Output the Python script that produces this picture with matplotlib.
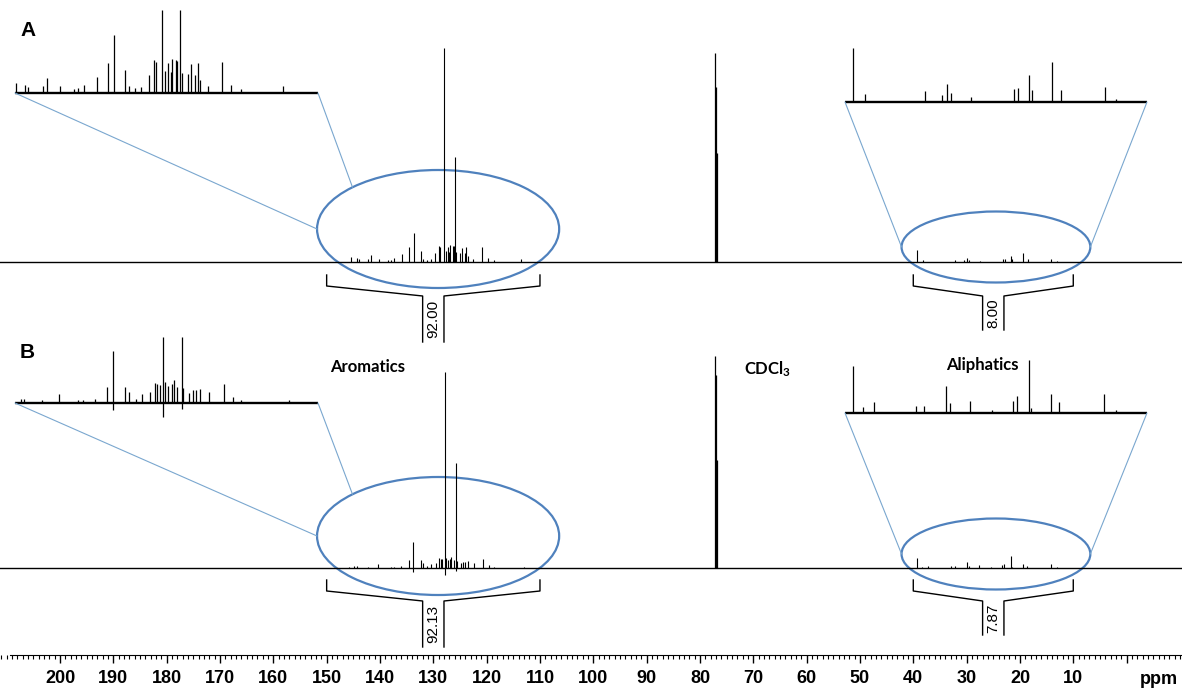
import numpy as np
import matplotlib.pyplot as plt
from matplotlib.patches import Ellipse, ConnectionPatch
from matplotlib.ticker import MultipleLocator

plt.rcParams['mathtext.default'] = 'regular'

# === peak lists ===
# aromatic region, heights in inset units (main trace = inset / 2)
a_aro_ppm = [145.4, 144.3, 143.9, 142.2, 141.7, 140.1, 138.5, 138.0, 137.3, 135.8,
             134.5, 133.7, 132.4, 132.0, 131.2, 130.5, 129.6, 129.0, 128.7, 128.0,
             127.7, 127.3, 127.0, 126.8, 126.4, 126.2, 125.9, 125.7, 125.0, 124.6,
             124.1, 123.8, 123.5, 122.6, 120.9, 119.8, 118.6, 113.6]
a_aro_h = [10, 8, 6, 7, 15, 7, 4, 5, 8, 16,
           30, 58, 23, 7, 5, 6, 18, 33, 31, 428,
           22, 30, 21, 34, 33, 32, 210, 20, 19, 29,
           18, 30, 13, 7, 31, 8, 4, 7]

b_aro_ppm = [145.9, 144.8, 144.4, 142.3, 140.3, 138.0, 137.4, 136.0, 134.6, 133.8,
             132.4, 132.0, 131.1, 130.4, 129.5, 128.9, 128.6, 128.3, 127.9, 127.7,
             127.3, 126.9, 126.6, 126.2, 125.7, 125.5, 124.8, 124.4, 124.0, 123.5,
             122.4, 120.7, 119.6, 118.6, 113.0]
b_aro_h = [3, 4, 4, 3, 9, 3, 3, 4, 16, 52,
           16, 11, 4, 9, 11, 20, 19, 18, 392, 21,
           17, 19, 23, 16, 210, 15, 10, 13, 13, 14,
           11, 19, 6, 3, 3]
b_aro_neg_ppm = [133.8, 127.9, 125.7]
b_aro_neg_h = [-7, -14, -6]

# aliphatic region, heights in inset units (main trace = inset / 4.5)
a_ali_ppm = [39.3, 38.1, 32.1, 30.4, 29.9, 29.5, 27.5, 23.2, 22.8, 21.7,
             21.4, 19.4, 18.5, 14.1, 13.0]
a_ali_h = [54, 8, 11, 7, 18, 9, 5, 13, 14, 27,
           12, 40, 12, 15, 3]

b_ali_ppm = [39.3, 38.3, 37.2, 33.0, 32.2, 30.0, 29.6, 27.6, 25.4, 23.3,
             22.9, 21.7, 21.5, 19.5, 18.7, 14.2, 13.0]
b_ali_h = [47, 6, 11, 7, 7, 27, 10, 12, 3, 12,
           17, 53, 5, 19, 11, 19, 3]

# solvent triplet (main units)
cdcl3_ppm = [77.16, 77.00, 76.84]
a_cdcl3_h = [209, 175, 109]
b_cdcl3_h = [212, 193, 108]

# integrals
int_ranges = [(150.0, 110.0), (40.0, 10.0)]
a_int = ['92.00', '8.00']
b_int = ['92.13', '7.87']

tick_vals = np.arange(200, -1, -10)
tick_labels = [str(v) if v > 0 else '' for v in tick_vals]

# === layout ===
W, H = 1182, 693
ARO_ZOOM, ALI_ZOOM = 2.0, 4.5
BLUE = '#4f81bd'
LINK = '#7aa7cf'


def px2ppm(x):
    return 200 - (x - 60) / 5.333


fig = plt.figure(figsize=(W / 100, H / 100), dpi=100)
ax = fig.add_axes([0, 38 / H, 1, 655 / H])
ax.set_xlim(px2ppm(0), px2ppm(W))
ax.set_ylim(0, 655)

base_a, base_b = 655 - 262, 655 - 568


def draw_main(base, aro_ppm, aro_h, ali_ppm, ali_h, solv_h):
    ax.axhline(base, color='k', lw=1.0)
    ax.vlines(aro_ppm, base, base + np.array(aro_h) / ARO_ZOOM, color='k', lw=0.8)
    ax.vlines(ali_ppm, base, base + np.array(ali_h) / ALI_ZOOM, color='k', lw=0.8)
    ax.vlines(cdcl3_ppm, base, base + np.array(solv_h), color='k', lw=0.9)


draw_main(base_a, a_aro_ppm, a_aro_h, a_ali_ppm, a_ali_h, a_cdcl3_h)
draw_main(base_b, b_aro_ppm, b_aro_h, b_ali_ppm, b_ali_h, b_cdcl3_h)
ax.vlines(b_aro_neg_ppm, base_b, base_b + np.array(b_aro_neg_h) / ARO_ZOOM, color='k', lw=0.8)


def make_inset(x0, x1, ytop, ybot, xlim, ylim, ppm, h, neg_ppm=None, neg_h=None):
    ins = fig.add_axes([x0 / W, 1 - ybot / H, (x1 - x0) / W, (ybot - ytop) / H])
    ins.set_xlim(*xlim)
    ins.set_ylim(*ylim)
    ins.axis('off')
    ins.plot(xlim, [0, 0], color='k', lw=1.7)
    ins.vlines(ppm, 0, np.minimum(h, ylim[1]), color='k', lw=0.9)
    if neg_ppm is not None:
        ins.vlines(neg_ppm, 0, neg_h, color='k', lw=0.9)
    return ins


ins_aa = make_inset(15, 318, 10, 96, (145.5, 109.5), (-3, 83), a_aro_ppm, a_aro_h)
ins_al = make_inset(845, 1147, 45, 105, (40.1, 9.9), (-3, 57), a_ali_ppm, a_ali_h)
ins_ba = make_inset(15, 318, 337, 418, (145.5, 109.5), (-15, 66), b_aro_ppm, b_aro_h,
                    b_aro_neg_ppm, b_aro_neg_h)
ins_bl = make_inset(845, 1147, 358, 416, (40.1, 9.9), (-3, 55), b_ali_ppm, b_ali_h)


def ellipse(cx, cy, w, h):
    ax.add_patch(Ellipse((cx, cy), w, h, fill=False, ec=BLUE, lw=1.6))

    def pt(t):
        t = np.deg2rad(t)
        return (cx - w / 2 * np.cos(t), cy + h / 2 * np.sin(t))
    return pt


def link(ins, side, xy):
    x = ins.get_xlim()[side]
    con = ConnectionPatch(xyA=(x, 0), coordsA=ins.transData, xyB=xy, coordsB=ax.transData,
                          color=LINK, lw=0.8)
    fig.add_artist(con)


for ins_aro, ins_ali, cy_aro, cy_ali in [(ins_aa, ins_al, 426, 408), (ins_ba, ins_bl, 119, 101)]:
    p = ellipse(129.1, cy_aro, 45.4, 118)
    link(ins_aro, 0, p(180))
    link(ins_aro, 1, p(135))
    p = ellipse(24.5, cy_ali, 35.4, 71)
    link(ins_ali, 0, p(180))
    link(ins_ali, 1, p(0))


def bracket(p0, p1, top, label, stem):
    mid = (p0 + p1) / 2
    half = 2.0
    for p, s in [(p0, 1), (p1, -1)]:
        ax.plot([p, p, mid + s * half, mid + s * half],
                [top, top - 11, top - 21, top - 21 - stem], color='k', lw=1.0)
    ax.text(mid, top - 21 - stem / 2, label, rotation=90, ha='center', va='center',
            fontsize=11, family='Liberation Sans')


for top, labels in [(380, a_int), (75, b_int)]:
    for (p0, p1), lab in zip(int_ranges, labels):
        bracket(p0, p1, top, lab, 46 if len(lab) > 4 else 34)

# axis
for s in ['left', 'right', 'top']:
    ax.spines[s].set_visible(False)
ax.spines['bottom'].set_bounds(px2ppm(10), px2ppm(W))
ax.set_yticks([])
ax.set_xticks(tick_vals)
ax.set_xticklabels(tick_labels, fontsize=13, fontweight='bold', family='Liberation Sans')
ax.xaxis.set_minor_locator(MultipleLocator(1))
ax.tick_params(axis='x', which='major', direction='out', length=6, width=1, pad=5)
ax.tick_params(axis='x', which='minor', direction='out', length=3, width=0.8)
ax.patch.set_alpha(0)

fig.text(1178 / W, 1 - 680 / H, 'ppm', ha='right', va='center', fontsize=13,
         fontweight='bold', family='Liberation Sans')

fig.text(20 / W, 1 - 30 / H, 'A', ha='left', va='center', fontsize=15, fontweight='bold',
         family='Liberation Sans')
fig.text(20 / W, 1 - 352 / H, 'B', ha='left', va='center', fontsize=15, fontweight='bold',
         family='Liberation Sans')
fig.text(330 / W, 1 - 367 / H, 'Aromatics', ha='left', va='center', fontsize=12,
         fontweight='bold', family='Lato')
fig.text(768 / W, 1 - 369 / H, 'CDCl$_3$', ha='center', va='center', fontsize=12,
         fontweight='bold', family='Lato')
fig.text(982 / W, 1 - 365 / H, 'Aliphatics', ha='center', va='center', fontsize=12,
         fontweight='bold', family='Lato')

fig.savefig('out.png', dpi=100, facecolor='white')
